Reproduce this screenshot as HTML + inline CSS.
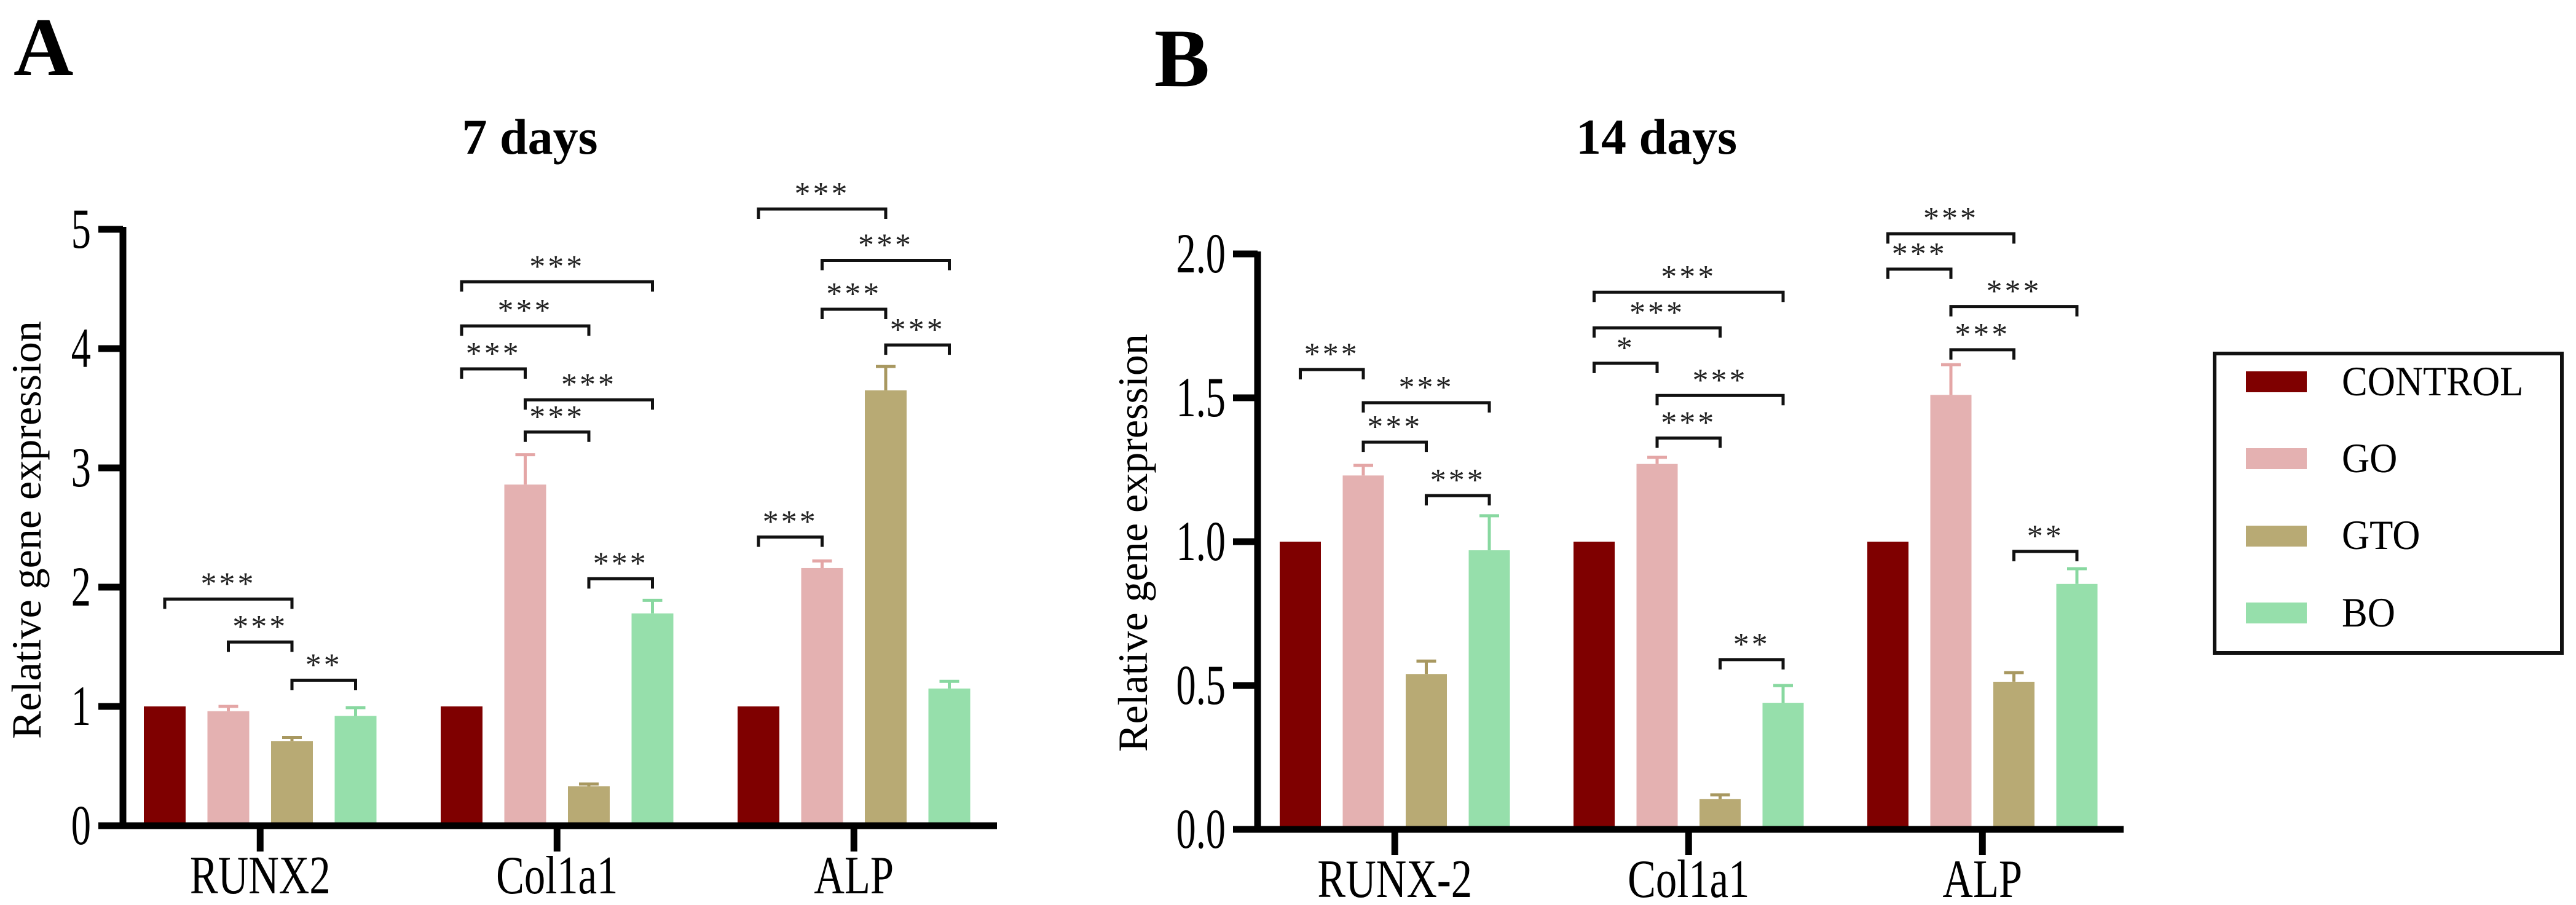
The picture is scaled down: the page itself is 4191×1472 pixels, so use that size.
<!DOCTYPE html>
<html><head><meta charset="utf-8"><style>
html,body{margin:0;padding:0;background:#fff;}
svg{display:block;}
svg text{font-family:"Liberation Serif","DejaVu Serif","Times New Roman",serif;}
</style></head><body>
<svg id="fig" width="4191" height="1472" viewBox="0 0 4191 1472" xmlns="http://www.w3.org/2000/svg" font-family="Liberation Serif, DejaVu Serif, serif">
<g id="pa"></g>
<g id="pb"></g>
<g>
  <rect x="3603" y="575" width="565" height="487" fill="none" stroke="#111" stroke-width="6"/>
  <g><rect x="3654" y="604" width="99" height="34" fill="#7f0000"/><text transform="translate(3810,643) scale(0.92,1)" font-size="68">CONTROL</text></g>
  <g><rect x="3654" y="729" width="99" height="34" fill="#e4b1b1"/><text transform="translate(3810,768) scale(0.92,1)" font-size="68">GO</text></g>
  <g><rect x="3654" y="855" width="99" height="34" fill="#b8aa74"/><text transform="translate(3810,893) scale(0.92,1)" font-size="68">GTO</text></g>
  <g><rect x="3654" y="980" width="99" height="34" fill="#96dfab"/><text transform="translate(3810,1019) scale(0.92,1)" font-size="68">BO</text></g>
</g>
</svg>
<script>
const colors = ["#7f0000","#e4b1b1","#b8aa74","#96dfab"];
const errColors = ["#7f0000","#e4a6a6","#a89860","#88d8a0"];
// Panel A data (7 days)
const catsA = ["RUNX2","Col1a1","ALP"];
const meansA = [[1,0.96,0.71,0.92],[1,2.86,0.33,1.78],[1,2.16,3.65,1.15]];
const errTopA = [[1,1.00,0.74,0.99],[1,3.11,0.35,1.89],[1,2.22,3.85,1.21]];
const ticksA = [0,1,2,3,4,5];
const tickLabelsA = ["0","1","2","3","4","5"];
const bracketsA = [
 [0,0,2,1.90,"***"],[0,1,2,1.54,"***"],[0,2,3,1.22,"**"],
 [1,0,3,4.56,"***"],[1,0,2,4.19,"***"],[1,0,1,3.83,"***"],[1,1,3,3.57,"***"],[1,1,2,3.30,"***"],[1,2,3,2.07,"***"],
 [2,0,2,5.17,"***"],[2,1,3,4.74,"***"],[2,1,2,4.33,"***"],[2,2,3,4.03,"***"],[2,0,1,2.42,"***"]
];
// Panel B data (14 days)
const catsB = ["RUNX-2","Col1a1","ALP"];
const meansB = [[1,1.23,0.54,0.97],[1,1.27,0.105,0.44],[1,1.51,0.513,0.853]];
const errTopB = [[1,1.265,0.585,1.09],[1,1.293,0.12,0.50],[1,1.615,0.545,0.906]];
const ticksB = [0,0.5,1,1.5,2];
const tickLabelsB = ["0.0","0.5","1.0","1.5","2.0"];
const bracketsB = [
 [0,0,1,1.598,"***"],[0,1,3,1.483,"***"],[0,1,2,1.346,"***"],[0,2,3,1.16,"***"],
 [1,0,3,1.867,"***"],[1,0,2,1.743,"***"],[1,0,1,1.62,"*"],[1,1,3,1.508,"***"],[1,1,2,1.36,"***"],[1,2,3,0.59,"**"],
 [2,0,2,2.07,"***"],[2,0,1,1.947,"***"],[2,1,3,1.817,"***"],[2,1,2,1.667,"***"],[2,2,3,0.966,"**"]
];
const NS="http://www.w3.org/2000/svg";
function mk(parent,tag,attrs,txt){const e=document.createElementNS(NS,tag);for(const k in attrs)e.setAttribute(k,attrs[k]);if(txt!==undefined)e.textContent=txt;parent.appendChild(e);return e;}
function panel(g,cfg){
  const y=v=>cfg.y0-(v-0)*cfg.unit;
  const barX=(gi,bi)=>cfg.firstBar+gi*cfg.groupStep+bi*cfg.barStep;
  const bw=cfg.barW;
  const L=mk(g,"text",{x:cfg.letterX,y:cfg.letterY,"font-size":135,"font-weight":"bold"},cfg.letter);
  
  
  const T=mk(g,"text",{x:cfg.titleX,y:cfg.titleY,"font-size":82,"font-weight":"bold","text-anchor":"middle"},cfg.title);
  
  
  cfg.means.forEach((grp,gi)=>grp.forEach((v,bi)=>{
    const x=barX(gi,bi);
    const et=cfg.errTop[gi][bi];
    if(et>v+0.001){
      const cx=x+bw/2;
      const eb=mk(g,"path",{d:`M${cx},${y(v)} V${y(et)} M${cx-16},${y(et)} H${cx+16}`,stroke:errColors[bi],"stroke-width":5,fill:"none"});
      
      
    }
    const r=mk(g,"rect",{x:x,y:y(v),width:bw,height:y(0)-y(v),fill:colors[bi]});
    
    
  }));
  cfg.brackets.forEach(b=>{
    const x1=barX(b[0],b[1])+bw/2, x2=barX(b[0],b[2])+bw/2, yy=y(b[3]);
    const p=mk(g,"path",{d:`M${x1},${yy+16} V${yy} H${x2} V${yy+16}`,stroke:"#111","stroke-width":5,fill:"none"});
    
    
    const s=mk(g,"text",{x:(x1+x2)/2,y:yy-8,"font-size":52,"text-anchor":"middle","letter-spacing":"4",fill:"#222"},b[4]);
    
    
  });
  const ax=mk(g,"path",{d:`M${cfg.axisX},${y(cfg.ticks[cfg.ticks.length-1])-4} V${cfg.y0} M${cfg.axisX-40},${cfg.y0} H${cfg.axisEnd}`,stroke:"#000","stroke-width":11,fill:"none"});
  
  
  cfg.ticks.forEach((t,i)=>{
    const tk=mk(g,"line",{x1:cfg.axisX-40,x2:cfg.axisX,y1:y(t),y2:y(t),stroke:"#000","stroke-width":11});
    
    
    const tl=mk(g,"text",{transform:`translate(${cfg.axisX-52},${y(t)+30}) scale(0.7,1)`,"font-size":92,"text-anchor":"end"},cfg.tickLabels[i]);
    
    
  });
  cfg.cats.forEach((c,gi)=>{
    const cx=(barX(gi,1)+bw+barX(gi,2))/2;
    const tk=mk(g,"line",{x1:cx,x2:cx,y1:cfg.y0,y2:cfg.y0+42,stroke:"#000","stroke-width":11});
    
    
    const tl=mk(g,"text",{transform:`translate(${cx},${cfg.y0+110}) scale(0.78,1)`,"font-size":88,"text-anchor":"middle"},c);
    
    
  });
  const yt=mk(g,"text",{transform:`translate(${cfg.ytX},${cfg.ytY}) rotate(-90)`,"font-size":68,"text-anchor":"middle"},"Relative gene expression");
  
  
}
panel(document.getElementById('pa'),{letter:"A",letterX:22,letterY:122,title:"7 days",titleX:862,titleY:250,
  cats:catsA,means:meansA,errTop:errTopA,ticks:ticksA,tickLabels:tickLabelsA,brackets:bracketsA,
  y0:1343,unit:194,axisX:200,axisEnd:1622,firstBar:234,groupStep:483,barStep:103.5,barW:68,ytX:66,ytY:862});
panel(document.getElementById('pb'),{letter:"B",letterX:1878,letterY:140,title:"14 days",titleX:2695,titleY:250,
  cats:catsB,means:meansB,errTop:errTopB,ticks:ticksB,tickLabels:tickLabelsB,brackets:bracketsB,
  y0:1349,unit:468,axisX:2046,axisEnd:3455,firstBar:2082,groupStep:478,barStep:102.5,barW:67,ytX:1866,ytY:883});
</script>
</body></html>
